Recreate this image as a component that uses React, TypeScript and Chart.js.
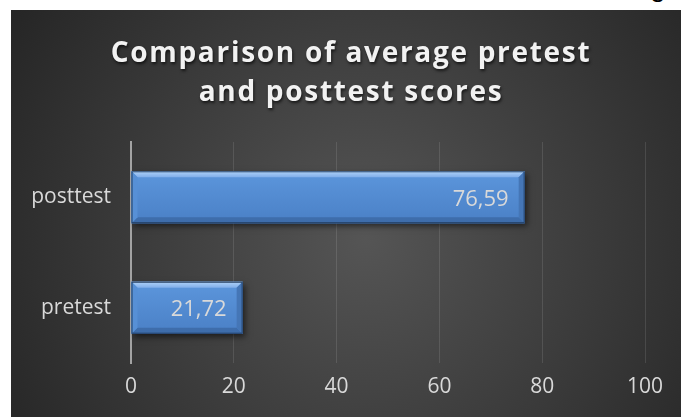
import React, { useEffect, useRef } from "react";
import { Chart, registerables } from "chart.js";

Chart.register(...registerables);

const categories = ["posttest", "pretest"];
const averageScores = [76.59, 21.72];
const xTickValues = [0, 20, 40, 60, 80, 100];
const titleLines = ["Comparison of average pretest", "and posttest scores"];

const W = 670;
const H = 407;
const FONT = "'Open Sans', 'Noto Sans', sans-serif";
const TEXT = "#d9d9d9";

const backgroundPlugin = {
  id: "bgGradient",
  beforeDraw(chart: any) {
    const { ctx, width, height } = chart;
    ctx.save();
    const cx = width * 0.53;
    const cy = height * 0.56;
    const g = ctx.createRadialGradient(cx, cy, 0, cx, cy, width * 0.62);
    g.addColorStop(0, "#555555");
    g.addColorStop(1, "#262626");
    ctx.fillStyle = g;
    ctx.fillRect(0, 0, width, height);
    ctx.restore();
  },
};

const titlePlugin = {
  id: "spacedTitle",
  afterDraw(chart: any) {
    const { ctx, width } = chart;
    ctx.save();
    ctx.font = `bold 28px ${FONT}`;
    (ctx as any).letterSpacing = "1.7px";
    ctx.textAlign = "center";
    ctx.textBaseline = "alphabetic";
    ctx.fillStyle = "#f2f2f2";
    ctx.shadowColor = "rgba(0,0,0,0.65)";
    ctx.shadowBlur = 3;
    ctx.shadowOffsetX = 1;
    ctx.shadowOffsetY = 2;
    const baselines = [52, 91];
    titleLines.forEach((line, i) => {
      ctx.fillText(line, width / 2 + 5, baselines[i]);
    });
    ctx.restore();
  },
};

const bevelPlugin = {
  id: "bevelBars",
  beforeDatasetsDraw(chart: any) {
    const ctx = chart.ctx;
    ctx.save();
    ctx.shadowColor = "rgba(0,0,0,0.55)";
    ctx.shadowBlur = 6;
    ctx.shadowOffsetX = 2;
    ctx.shadowOffsetY = 3;
  },
  afterDatasetsDraw(chart: any) {
    const ctx = chart.ctx;
    ctx.restore();
    const meta = chart.getDatasetMeta(0);
    const values = chart.data.datasets[0].data as number[];
    meta.data.forEach((el: any, i: number) => {
      const { x, y, base, height } = el.getProps(["x", "y", "base", "height"], true);
      const L = Math.min(x, base);
      const R = Math.max(x, base);
      const T = y - height / 2;
      const B = y + height / 2;
      const b = 6;
      ctx.save();
      const body = ctx.createLinearGradient(0, T, 0, B);
      body.addColorStop(0, "#5c96dc");
      body.addColorStop(1, "#4a80c6");
      ctx.fillStyle = body;
      ctx.fillRect(L, T, R - L, B - T);
      const poly = (pts: number[][], fill: any) => {
        ctx.beginPath();
        ctx.moveTo(pts[0][0], pts[0][1]);
        for (let k = 1; k < pts.length; k++) ctx.lineTo(pts[k][0], pts[k][1]);
        ctx.closePath();
        ctx.fillStyle = fill;
        ctx.fill();
      };
      const top = ctx.createLinearGradient(0, T, 0, T + b);
      top.addColorStop(0, "#b0d2f7");
      top.addColorStop(1, "#80aeea");
      poly([[L, T], [R, T], [R - b, T + b], [L + b, T + b]], top);
      poly([[L, B], [R, B], [R - b, B - b], [L + b, B - b]], "#3e6dab");
      poly([[R, T], [R, B], [R - b, B - b], [R - b, T + b]], "#4576b6");
      poly([[L, T], [L + b, T + b], [L + b, B - b], [L, B]], "#5790d6");
      ctx.strokeStyle = "rgba(30,55,90,0.9)";
      ctx.lineWidth = 1;
      ctx.strokeRect(L + 0.5, T + 0.5, R - L - 1, B - T - 1);
      ctx.font = `22px ${FONT}`;
      ctx.fillStyle = TEXT;
      ctx.textAlign = "right";
      ctx.textBaseline = "middle";
      const label = values[i].toFixed(2).replace(".", ",");
      ctx.fillText(label, R - 16, y + 2);
      ctx.restore();
    });
  },
};

export default function App() {
  const ref = useRef<HTMLCanvasElement | null>(null);

  useEffect(() => {
    if (!ref.current) return;
    const chart = new Chart(ref.current, {
      type: "bar",
      data: {
        labels: categories,
        datasets: [
          {
            data: averageScores,
            backgroundColor: "#4f88cf",
            borderWidth: 0,
            barPercentage: 0.94,
            categoryPercentage: 0.5,
          },
        ],
      },
      options: {
        indexAxis: "y",
        responsive: false,
        animation: false,
        devicePixelRatio: 1,
        layout: { padding: { top: 132, right: 36, left: 0, bottom: 0 } },
        plugins: {
          legend: { display: false },
          title: { display: false },
          tooltip: { enabled: false },
        },
        scales: {
          x: {
            min: 0,
            max: 100,
            afterBuildTicks(scale: any) {
              scale.ticks = xTickValues.map((v) => ({ value: v }));
            },
            afterFit(scale: any) {
              scale.height = 54;
            },
            grid: { color: "rgba(255,255,255,0.11)", lineWidth: 1, drawTicks: false },
            border: { display: false },
            ticks: { color: TEXT, font: { family: FONT, size: 21 }, padding: 11 },
          },
          y: {
            afterFit(scale: any) {
              scale.width = 120;
            },
            grid: { display: false, drawTicks: false },
            border: { display: true, color: "#a3a3a3", width: 2 },
            ticks: { color: TEXT, font: { family: FONT, size: 21 }, padding: 20 },
          },
        },
      } as any,
      plugins: [backgroundPlugin, bevelPlugin, titlePlugin],
    });
    return () => chart.destroy();
  }, []);

  return (
    <div style={{ position: "fixed", left: 0, top: 0, width: 681, height: 417, background: "#fff", overflow: "hidden" }}>
      <span
        style={{
          position: "absolute",
          left: 650,
          top: -29,
          fontFamily: "'Liberation Sans', sans-serif",
          fontSize: 28,
          color: "#000",
          lineHeight: "32px",
        }}
      >
        g
      </span>
      <div style={{ position: "absolute", left: 11, top: 10, width: W, height: H }}>
        <canvas ref={ref} width={W} height={H} style={{ width: W, height: H, display: "block" }} />
      </div>
    </div>
  );
}
